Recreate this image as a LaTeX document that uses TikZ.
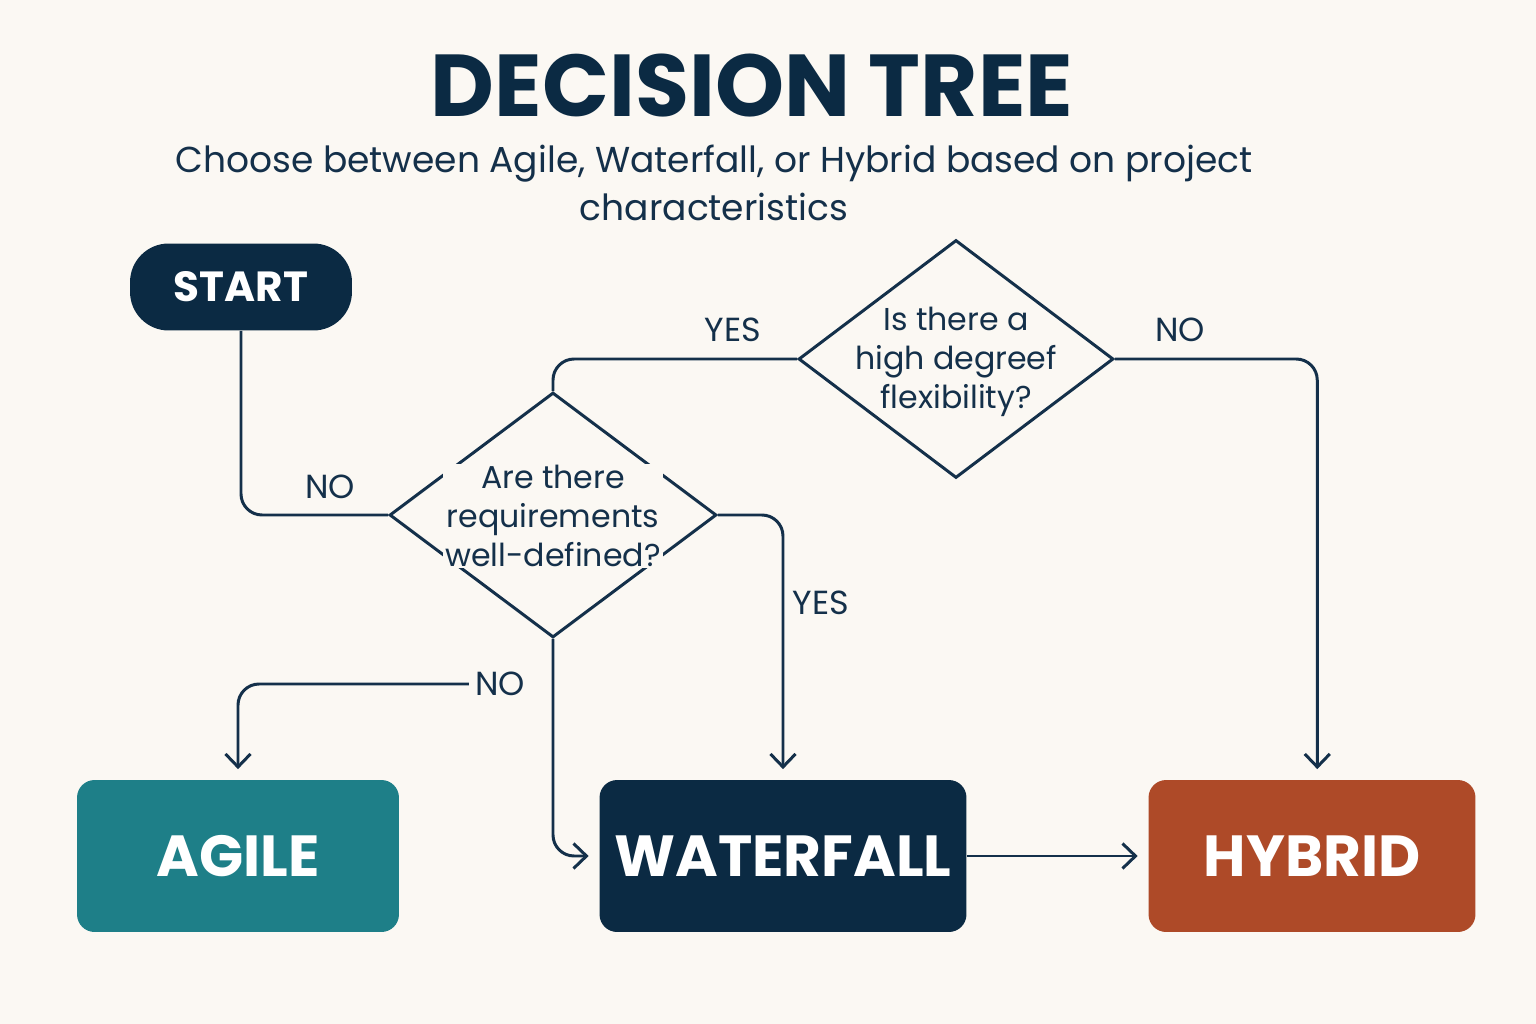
\documentclass[tikz,border=0pt]{standalone}
\usepackage{fontspec}
\setmainfont{Poppins}
\usetikzlibrary{arrows.meta, positioning, shapes.geometric}
\definecolor{bgcream}{HTML}{FBF8F3}
\definecolor{navy}{HTML}{0B2A43}
\definecolor{inkblue}{HTML}{14304A}
\definecolor{agileteal}{HTML}{1E7F88}
\definecolor{hybridrust}{HTML}{AE4A28}

\begin{document}
\begin{tikzpicture}[x=0.02cm,y=-0.02cm,>={Straight Barb[length=2.6mm,width=5mm]},
        line/.style={draw=inkblue,line width=1.7pt,rounded corners=12pt},
        decision/.style={shape=diamond,draw=inkblue,line width=1.7pt,inner sep=0pt},
        qtext/.style={text=inkblue,font=\fontsize{18}{22}\selectfont,align=center,fill=bgcream,inner sep=1pt},
        answer/.style={text=inkblue,font=\fontsize{19}{22}\selectfont},
        outcome/.style={rounded corners=10pt,text=white,font=\fontsize{33}{36}\selectfont\bfseries,
                        minimum height=3.04cm,inner xsep=0pt}]

  % page
  \fill[bgcream] (0,0) rectangle (1536,1024);
  \useasboundingbox (0,0) rectangle (1536,1024);

  % heading
  \node[text=navy,font=\fontsize{50}{56}\selectfont\bfseries] (title) at (752,86) {DECISION TREE};
  \node[text=inkblue,font=\fontsize{20.5}{27}\selectfont,align=center] (subtitle) at (714,183)
       {Choose between Agile, Waterfall, or Hybrid based on project\\characteristics};

  % nodes
  \node[fill=navy,rounded corners=22pt,minimum width=4.44cm,minimum height=1.74cm,
        text=white,font=\fontsize{24}{28}\selectfont\bfseries] (start) at (241,287) {START};
  \node[decision,minimum width=6.54cm,minimum height=4.9cm] (reqs) at (553,515) {};
  \node[qtext] (reqstext) at (553,516) {Are there\\requirements\\well-defined?};
  \node[decision,minimum width=6.3cm,minimum height=4.76cm] (flex) at (956,359) {};
  \node[qtext,fill=none] (flextext) at (956,362) {Is there a\\high degreef\\flexibility?};

  \node[outcome,fill=agileteal,minimum width=6.44cm] (agile) at (238,856) {AGILE};
  \node[outcome,fill=navy,minimum width=7.34cm] (waterfall) at (783,856) {WATERFALL};
  \node[outcome,fill=hybridrust,minimum width=6.54cm] (hybrid) at (1312,856) {HYBRID};

  % connectors
  \draw[line] (start.south) |- (reqs.west);
  \node[answer] (no1) at (330,487) {NO};
  \draw[line] (reqs.north) |- (flex.west);
  \node[answer] (yes1) at (733,330) {YES};
  \draw[line,->] (flex.east) -| ([xshift=3pt,yshift=6pt]hybrid.north) ;
  \node[answer] (no2) at (1180,330) {NO};
  \draw[line,->] (reqs.east) -| ([yshift=6pt]waterfall.north);
  \node[answer] (yes2) at (821,603) {YES};
  \draw[line,->] (reqs.south) |- ([xshift=-6pt]waterfall.west);
  \node[answer] (no3) at (500,684) {NO};
  \draw[line,->] (no3.west) -| ([yshift=6pt]agile.north);
  \draw[line,->] (waterfall.east) -- ([xshift=-6pt]hybrid.west);
\end{tikzpicture}
\end{document}
